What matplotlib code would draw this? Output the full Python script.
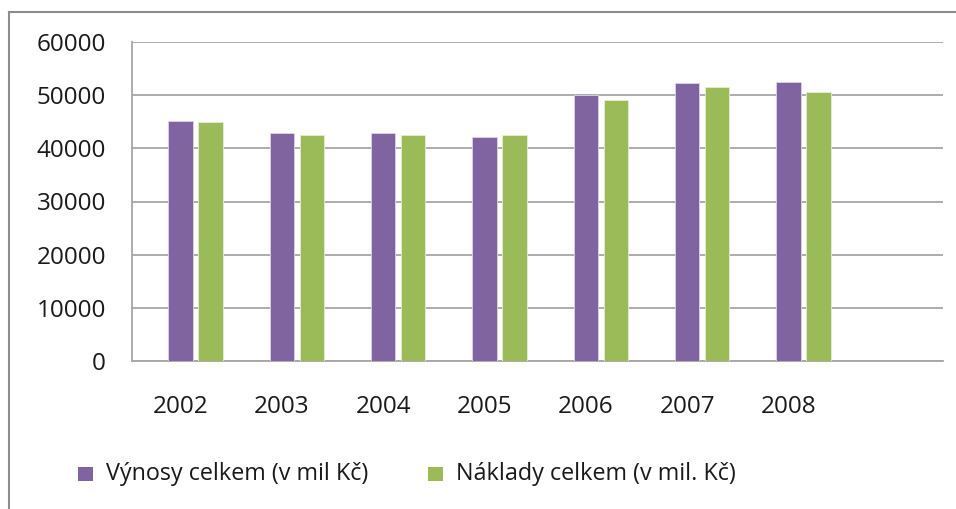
import numpy as np
import matplotlib
matplotlib.use('agg')
import matplotlib.pyplot as plt
from matplotlib.patches import Rectangle
from matplotlib.lines import Line2D

years = ['2002', '2003', '2004', '2005', '2006', '2007', '2008']
vynosy = [45100, 42900, 42900, 42200, 50050, 52300, 52500]
naklady = [44900, 42600, 42600, 42600, 49100, 51500, 50550]
labels = ['Výnosy celkem (v mil Kč)', 'Náklady celkem (v mil. Kč)']
colors = ['#8064A2', '#9BBB59']

W, H = 956, 509
plt.rcParams['font.family'] = ['Open Sans', 'DejaVu Sans']
fig = plt.figure(figsize=(W / 100, H / 100), dpi=100)

# outer frame (only top and left edge visible)
fig.add_artist(Line2D([9 / W, 1], [1 - 12 / H, 1 - 12 / H], color='#8c8c8c', lw=1.5))
fig.add_artist(Line2D([9 / W, 9 / W], [0, 1 - 12 / H], color='#8c8c8c', lw=1.5))

ax = fig.add_axes([131.5 / W, (H - 361) / H, 811.5 / W, (361 - 42) / H])
x = np.arange(len(years))
w = 0.24
ax.bar(x, vynosy, w, color=colors[0], edgecolor='#ddd5e8', lw=0.6, zorder=3)
ax.bar(x + 0.295, naklady, w, color=colors[1], edgecolor='#e4eed4', lw=0.6, zorder=3)

ax.set_xlim(-0.485, 7.525)
ax.set_ylim(0, 60000)
ax.set_yticks(range(0, 60001, 10000))
ax.set_xticks(x)
ax.set_xticklabels(years)
ax.yaxis.grid(True, color='#a6a6a6', lw=1.3, zorder=0)
ax.set_axisbelow(True)
for s in ['top', 'right']:
    ax.spines[s].set_visible(False)
for s in ['left', 'bottom']:
    ax.spines[s].set_color('#a6a6a6')
    ax.spines[s].set_linewidth(1.3)
ax.tick_params(length=0, labelsize=17.5, colors='#1a1a1a')
ax.tick_params(axis='y', pad=18.4)
ax.tick_params(axis='x', pad=24.5)

# legend
leg_x = [78, 428]
for lx, lab, c in zip(leg_x, labels, colors):
    fig.add_artist(Rectangle((lx / W, (H - 481) / H), 15 / W, 14 / H,
                             facecolor=c, edgecolor='none'))
    fig.text((lx + 28) / W, (H - 474) / H, lab, fontsize=16.8,
             color='#1a1a1a', va='center', ha='left')

plt.savefig('out.png', dpi=100)
plt.close()
